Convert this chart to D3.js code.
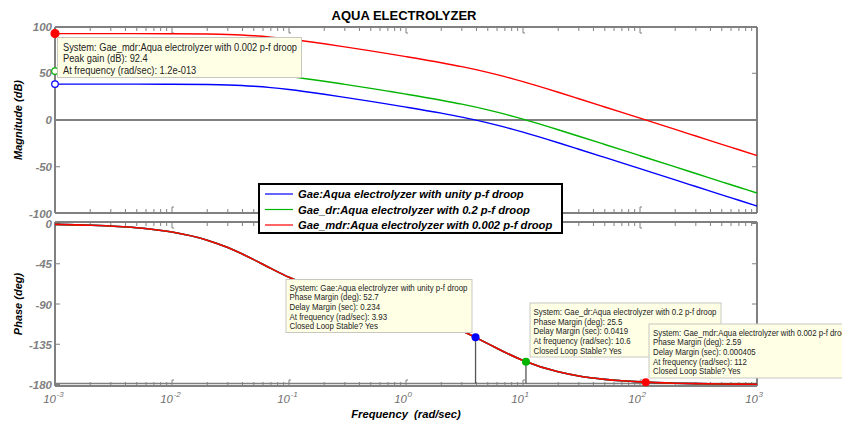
<!DOCTYPE html>
<html>
<head>
<meta charset="utf-8">
<script src="https://cdn.jsdelivr.net/npm/d3@7"></script>
<style>
  body { margin: 0; background: #fff; }
  svg { display: block; }
  text { font-family: "Liberation Sans", Arial, sans-serif; }
</style>
</head>
<body>
<svg id="chart" width="842" height="421"></svg>
<script>
// Frequency grid (rad/sec) and Bode responses of the three droop variants
const freq = [0.001, 0.002, 0.005, 0.01, 0.02, 0.03, 0.05, 0.07, 0.1, 0.2, 0.3, 0.5, 0.7,
              1, 2, 3, 5, 7, 10, 20, 30, 50, 70, 100, 200, 300, 500, 700, 1000];
const magGae    = [38.4, 38.4, 38.37, 38.28, 37.94, 37.43, 36.11, 34.67, 32.63, 27.56, 24.23, 19.88, 16.95,
                   13.78, 7.29, 3.08, -3.03, -7.65, -13.03, -24.36, -31.26, -40.06, -45.88, -52.07, -64.10, -71.14, -80.02, -85.86, -92.06];
const magGaeDr  = [52.3, 52.3, 52.27, 52.18, 51.84, 51.33, 50.01, 48.57, 46.53, 41.46, 38.13, 33.78, 30.85,
                   27.68, 21.19, 16.98, 10.87, 6.25, 0.87, -10.46, -17.36, -26.16, -31.98, -38.17, -50.20, -57.24, -66.12, -71.96, -78.16];
const magGaeMdr = [92.4, 92.4, 92.37, 92.28, 91.94, 91.43, 90.11, 88.67, 86.63, 81.56, 78.23, 73.88, 70.95,
                   67.78, 61.29, 57.08, 50.97, 46.35, 40.97, 29.64, 22.74, 13.94, 8.12, 1.93, -10.10, -17.14, -26.02, -31.86, -38.06];
const phaseDeg  = [-0.97, -1.93, -4.82, -9.58, -18.66, -26.91, -40.38, -50.20, -60.19, -75.59, -82.12, -88.87, -93.07,
                   -97.88, -110.08, -119.81, -134.31, -143.97, -153.09, -165.79, -170.43, -174.22, -175.86, -177.11, -178.55, -179.04, -179.42, -179.59, -179.71];

const systems = ["Gae", "Gae_dr", "Gae_mdr"];
const descriptions = ["Aqua electrolyzer with unity p-f droop",
                      "Aqua electrolyzer with 0.2 p-f droop",
                      "Aqua electrolyzer with 0.002 p-f droop"];
const seriesColors = ["#0000ff", "#00b400", "#ff0000"];

// Stability margins reported per system
const peakGain = [38.4, 52.3, 92.4];
const peakFreqLabel = "1.2e-013";
const crossFreq = [3.93, 10.6, 112];
const phaseMargin = [52.7, 25.5, 2.59];
const delayMargin = [0.234, 0.0419, 0.000405];

const magTicks = [-100, -50, 0, 50, 100];
const phaseTicks = [-180, -135, -90, -45, 0];
const decadeExp = [-3, -2, -1, 0, 1, 2, 3];

// ---------------------------------------------------------------------------
const svg = d3.select("#chart");
const axisGray = "#808080";
const left = 55, right = 757;
const mag = { top: 27, bottom: 213 };
const ph = { top: 222, bottom: 386 };

const x = d3.scaleLog().domain([1e-3, 1e3]).range([left, right]);
const yMag = d3.scaleLinear().domain([-100, 100]).range([213.5, 26.5]);
const yPh = d3.scaleLinear().domain([-180, 0]).range([384.5, 223.5]);

const magSeries = [magGae, magGaeDr, magGaeMdr];

const defs = svg.append("defs");
defs.append("clipPath").attr("id", "clipMag").append("rect")
  .attr("x", left).attr("y", mag.top).attr("width", right - left).attr("height", mag.bottom - mag.top);
defs.append("clipPath").attr("id", "clipPh").append("rect")
  .attr("x", left).attr("y", ph.top).attr("width", right - left).attr("height", ph.bottom - ph.top);

// Title
svg.append("text").attr("x", 404).attr("y", 19.5).attr("text-anchor", "middle")
  .attr("font-size", 13).attr("font-weight", "bold").text("AQUA ELECTROLYZER");

// Axis titles
svg.append("text").attr("transform", "translate(22,120) rotate(-90)").attr("text-anchor", "middle")
  .attr("font-size", 11).attr("font-weight", "bold").attr("font-style", "italic").text("Magnitude (dB)");
svg.append("text").attr("transform", "translate(22,304) rotate(-90)").attr("text-anchor", "middle")
  .attr("font-size", 11).attr("font-weight", "bold").attr("font-style", "italic").text("Phase (deg)");
svg.append("text").attr("x", 406).attr("y", 418).attr("text-anchor", "middle")
  .attr("font-size", 11.2).attr("font-weight", "bold").attr("font-style", "italic")
  .attr("xml:space", "preserve").text("Frequency  (rad/sec)");

// Reference lines: 0 dB and -180 deg
svg.append("line").attr("x1", left).attr("x2", right).attr("y1", yMag(0)).attr("y2", yMag(0))
  .attr("stroke", axisGray).attr("stroke-width", 2);
svg.append("line").attr("x1", left).attr("x2", right).attr("y1", yPh(-180) - 1).attr("y2", yPh(-180) - 1)
  .attr("stroke", axisGray).attr("stroke-width", 1.5);

// Axes frames
function frame(box) {
  const g = svg.append("g").attr("fill", "none").attr("stroke", axisGray).attr("stroke-width", 2);
  g.append("line").attr("x1", left).attr("x2", right).attr("y1", box.top).attr("y2", box.top);
  g.append("line").attr("x1", left).attr("x2", right).attr("y1", box.bottom).attr("y2", box.bottom);
  g.append("line").attr("x1", left).attr("x2", left).attr("y1", box.top).attr("y2", box.bottom);
  g.append("line").attr("x1", right).attr("x2", right).attr("y1", box.top).attr("y2", box.bottom);
}
frame(mag);
frame(ph);

// Logarithmic tick marks along the frequency edges
const minorFreqs = [];
decadeExp.slice(0, -1).forEach(e => { for (let k = 2; k <= 9; k++) minorFreqs.push(k * Math.pow(10, e)); });
const majorFreqs = decadeExp.map(e => Math.pow(10, e));
function xTicks(yEdge, dir) {
  const g = svg.append("g").attr("stroke", axisGray).attr("stroke-width", 1);
  g.selectAll(".mn").data(minorFreqs).join("line")
    .attr("x1", d => x(d)).attr("x2", d => x(d))
    .attr("y1", yEdge).attr("y2", yEdge + dir * 4);
  g.selectAll(".mj").data(majorFreqs.slice(1, -1)).join("path")
    .attr("fill", "none")
    .attr("d", d => `M${x(d) + 2},${yEdge + dir * 6}H${x(d)}V${yEdge}`);
}
xTicks(mag.top, 1); xTicks(mag.bottom, -1);
xTicks(ph.top, 1); xTicks(ph.bottom, -1);

// Value ticks on left/right edges
function yTicks(ticks, scale) {
  const g = svg.append("g").attr("stroke", axisGray).attr("stroke-width", 1);
  g.selectAll(".l").data(ticks).join("line")
    .attr("x1", left).attr("x2", left + 5).attr("y1", d => scale(d)).attr("y2", d => scale(d));
  g.selectAll(".r").data(ticks).join("line")
    .attr("x1", right).attr("x2", right - 5).attr("y1", d => scale(d)).attr("y2", d => scale(d));
}
yTicks(magTicks, yMag);
yTicks(phaseTicks, yPh);

// Tick labels
const lblStyle = sel => sel.attr("fill", axisGray).attr("font-size", 11.5)
  .attr("font-weight", "bold").attr("font-style", "italic");
svg.append("g").selectAll("text").data(magTicks).join("text")
  .attr("x", 52).attr("y", d => yMag(d) + 4).attr("text-anchor", "end").text(d => d).call(lblStyle);
svg.append("g").selectAll("text").data(phaseTicks).join("text")
  .attr("x", 52).attr("y", d => yPh(d) + 4.5).attr("text-anchor", "end").text(d => d).call(lblStyle);

const xl = svg.append("g").selectAll("g").data(decadeExp).join("g")
  .attr("transform", e => `translate(${x(Math.pow(10, e))},402.5)`);
xl.append("text").attr("x", 1).attr("text-anchor", "end").attr("fill", "#707070")
  .attr("font-size", 11.5).attr("font-style", "italic").text("10");
xl.append("text").attr("x", 1.5).attr("y", -5.5).attr("text-anchor", "start")
  .attr("font-size", 8).attr("fill", "#707070").attr("font-style", "italic").text(e => e);

// Curves
const magLine = vals => d3.line().x((d, i) => x(freq[i])).y(d => yMag(d)).curve(d3.curveMonotoneX)(vals);
const phLine = d3.line().x((d, i) => x(freq[i])).y(d => yPh(d)).curve(d3.curveMonotoneX);

const gm = svg.append("g").attr("clip-path", "url(#clipMag)");
magSeries.forEach((s, i) => {
  gm.append("path").attr("d", magLine(s)).attr("fill", "none")
    .attr("stroke", seriesColors[i]).attr("stroke-width", 1.4);
});
const gp = svg.append("g").attr("clip-path", "url(#clipPh)");
seriesColors.forEach(c => {
  gp.append("path").attr("d", phLine(phaseDeg)).attr("fill", "none")
    .attr("stroke", c).attr("stroke-width", 1.6);
});

// Phase-margin drop lines and markers
crossFreq.forEach((f, i) => {
  const yv = yPh(-180 + phaseMargin[i]);
  svg.append("line").attr("x1", x(f)).attr("x2", x(f)).attr("y1", yv).attr("y2", yPh(-180) - 1)
    .attr("stroke", "#555").attr("stroke-width", 1.3);
});
crossFreq.forEach((f, i) => {
  svg.append("circle").attr("cx", x(f)).attr("cy", yPh(-180 + phaseMargin[i])).attr("r", 4)
    .attr("fill", seriesColors[i]);
});

// Peak-gain markers (frequency lies left of the visible range, pinned to the edge)
peakGain.forEach((g, i) => {
  svg.append("circle").attr("cx", left).attr("cy", yMag(g)).attr("r", i === 2 ? 4 : 3.3)
    .attr("fill", i === 2 ? seriesColors[i] : "#fff")
    .attr("stroke", seriesColors[i]).attr("stroke-width", 1.2);
});

// Data tips: lines are condensed horizontally so the first line spans firstWidth
function dataTip(bx, by, bw, bh, lines, fs, lh, tx, ty0, firstWidth) {
  const g = svg.append("g");
  g.append("rect").attr("x", bx).attr("y", by).attr("width", bw).attr("height", bh)
    .attr("fill", "#ffffe6").attr("stroke", "#c8c8c0").attr("stroke-width", 1);
  const texts = g.selectAll("text").data(lines).join("text")
    .attr("x", tx).attr("y", (d, i) => ty0 + i * lh)
    .attr("font-size", fs).attr("fill", "#222").text(d => d);
  const nodes = texts.nodes();
  const k = firstWidth / nodes[0].getComputedTextLength();
  nodes.forEach(n => {
    const w = n.getComputedTextLength();
    d3.select(n).attr("textLength", w * k).attr("lengthAdjust", "spacingAndGlyphs");
  });
}
dataTip(57.5, 37.5, 244, 40, [
  `System: ${systems[2]}:${descriptions[2]}`,
  `Peak gain (dB): ${peakGain[2]}`,
  `At frequency (rad/sec): ${peakFreqLabel}`
], 10, 11.7, 63, 50.5, 234);

const tipBoxes = [[286, 279.5, 186, 53], [530, 303, 191, 54], [649, 324, 200, 54]];
const tipText = [[289.5, 290.5], [533.5, 315], [653, 335.5]];
const tipFirstWidth = [178, 183, 197];
crossFreq.forEach((f, i) => {
  const b = tipBoxes[i], t = tipText[i];
  dataTip(b[0], b[1], b[2], b[3], [
    `System: ${systems[i]}:${descriptions[i]}`,
    `Phase Margin (deg): ${phaseMargin[i]}`,
    `Delay Margin (sec): ${delayMargin[i]}`,
    `At frequency (rad/sec): ${f}`,
    `Closed Loop Stable? Yes`
  ], 8.8, 9.7, t[0], t[1], tipFirstWidth[i]);
});

// Legend
const lg = svg.append("g");
lg.append("rect").attr("x", 259).attr("y", 184).attr("width", 303).attr("height", 49)
  .attr("fill", "#fff").attr("stroke", "#000").attr("stroke-width", 2);
const rowsY = [194, 209.5, 225];
systems.forEach((s, i) => {
  lg.append("line").attr("x1", 265).attr("x2", 293).attr("y1", rowsY[i]).attr("y2", rowsY[i])
    .attr("stroke", seriesColors[i]).attr("stroke-width", 1.2);
  lg.append("text").attr("x", 298).attr("y", rowsY[i] + 4).attr("font-size", 11.2)
    .attr("font-weight", "bold").attr("font-style", "italic").text(`${s}:${descriptions[i]}`);
});
</script>
</body>
</html>
